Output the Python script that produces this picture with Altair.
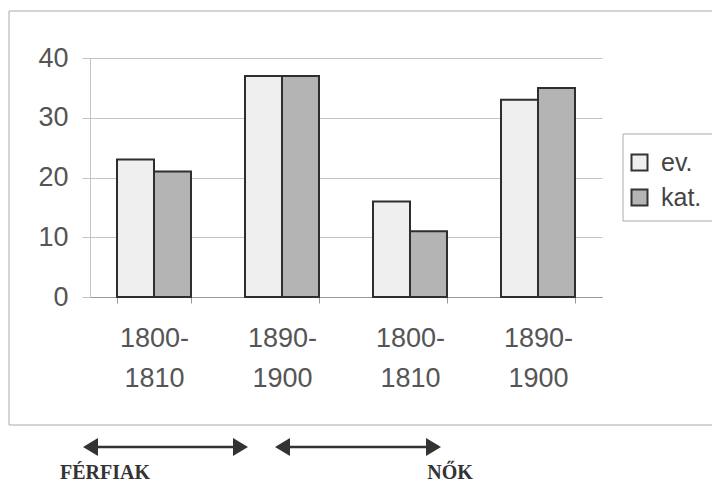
import altair as alt
import pandas as pd

groups = ["FÉRFIAK", "FÉRFIAK", "NŐK", "NŐK"]
periods = ["1800-1810", "1890-1900", "1800-1810", "1890-1900"]
series_names = ["ev.", "kat."]
ev_values = [23, 37, 16, 33]
kat_values = [21, 37, 11, 35]
y_ticks = [0, 10, 20, 30, 40]
bottom_labels = ["FÉRFIAK", "NŐK"]

rows = []
for g, p, ev, kat in zip(groups, periods, ev_values, kat_values):
    key = g + " " + p
    rows.append({"cat": key, "series": series_names[0], "value": ev})
    rows.append({"cat": key, "series": series_names[1], "value": kat})
df = pd.DataFrame(rows)
cat_order = [g + " " + p for g, p in zip(groups, periods)]

one = pd.DataFrame({"a": [0]})

bars = alt.Chart(df).mark_bar(stroke="#2e2e2e", strokeWidth=2).encode(
    x=alt.X("cat:N", sort=cat_order,
            scale=alt.Scale(paddingInner=0.422, paddingOuter=0.211),
            axis=alt.Axis(title=None, labelAngle=0, grid=False,
                          labelExpr="[substring(datum.label, length(datum.label)-9, length(datum.label)-4), substring(datum.label, length(datum.label)-4)]",
                          labelFontSize=27, labelLineHeight=40, labelBaseline="top",
                          labelPadding=22, tickBand="extent", tickSize=6,
                          tickColor="#999", domainColor="#999",
                          labelColor="#555", labelFont="Liberation Sans")),
    xOffset=alt.XOffset("series:N", scale=alt.Scale(paddingInner=0, paddingOuter=0)),
    y=alt.Y("value:Q", scale=alt.Scale(domain=[0, 40], nice=False),
            axis=alt.Axis(title=None, values=y_ticks, grid=True, gridColor="#c4c4c4",
                          domainColor="#c4c4c4", tickColor="#c4c4c4", tickSize=8,
                          labelFontSize=27, labelColor="#555", labelFont="Liberation Sans",
                          labelPadding=14)),
    fill=alt.Fill("series:N", sort=series_names,
                  scale=alt.Scale(domain=series_names, range=["#efefef", "#b4b4b4"]),
                  legend=alt.Legend(title=None, orient="none", legendX=537, legendY=92,
                                    padding=0, symbolType="square",
                                    symbolSize=256, symbolStrokeColor="#333",
                                    symbolStrokeWidth=2, labelFontSize=25,
                                    labelColor="#444", labelFont="Liberation Sans",
                                    labelOffset=9, rowPadding=9, symbolOpacity=1)),
)

frame = alt.Chart(one).mark_rect(fillOpacity=0, stroke="#aaa", strokeWidth=1).encode(
    x=alt.value(-81), x2=alt.value(640), y=alt.value(-47), y2=alt.value(367)
)
legend_box = alt.Chart(one).mark_rect(fillOpacity=0, stroke="#aaa", strokeWidth=1).encode(
    x=alt.value(533), x2=alt.value(626), y=alt.value(76), y2=alt.value(163)
)

arrow_style = dict(color="#333", strokeWidth=2.5)
rule1 = alt.Chart(one).mark_rule(**arrow_style).encode(
    x=alt.value(0), x2=alt.value(151), y=alt.value(389))
rule2 = alt.Chart(one).mark_rule(**arrow_style).encode(
    x=alt.value(193), x2=alt.value(344), y=alt.value(389))

left_head = "M-1,0L1,-1.2L1,1.2Z"
right_head = "M1,0L-1,-1.2L-1,1.2Z"
heads = []
for xc, shp in [(0.5, left_head), (150.5, right_head), (192.5, left_head), (343.5, right_head)]:
    heads.append(alt.Chart(one).mark_point(shape=shp, filled=True, size=225,
                                           color="#333", opacity=1, strokeWidth=0).encode(
        x=alt.value(xc), y=alt.value(389)))

text1 = alt.Chart(one).mark_text(text=bottom_labels[0], font="Liberation Serif", fontWeight="bold",
                                 fontSize=20, color="#333", baseline="alphabetic", align="center").encode(
    x=alt.value(15), y=alt.value(421))
text2 = alt.Chart(one).mark_text(text=bottom_labels[1], font="Liberation Serif", fontWeight="bold",
                                 fontSize=20, color="#333", baseline="alphabetic", align="center").encode(
    x=alt.value(360), y=alt.value(421))

chart = alt.layer(frame, legend_box, bars, rule1, rule2, *heads, text1, text2).properties(
    width=512, height=239,
    autosize=alt.AutoSizeParams(type="none"),
    padding={"left": 82, "top": 50, "right": 110, "bottom": 191},
    background="white",
).configure_view(stroke=None)

chart.save("out.html", embed_options={"renderer": "svg", "actions": False})
